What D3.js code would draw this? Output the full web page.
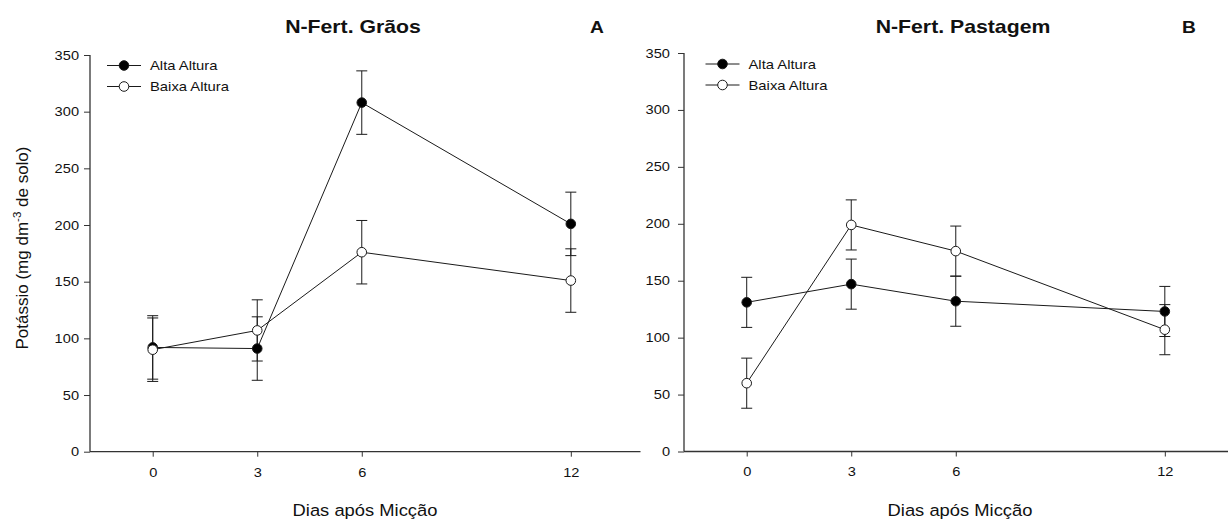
<!DOCTYPE html>
<html>
<head>
<meta charset="utf-8">
<script src="https://cdn.jsdelivr.net/npm/d3@7"></script>
<style>
  html, body { margin: 0; padding: 0; background: #fff; }
  svg { display: block; font-family: "Liberation Sans", Arial, sans-serif; }
</style>
</head>
<body>
<svg id="chart" width="1228" height="521"></svg>
<script>
// Sampling days after urination
const days = [0, 3, 6, 12];
const xTicks = [0, 3, 6, 12];
const yTicks = [0, 50, 100, 150, 200, 250, 300, 350];
const seriesNames = ["Alta Altura", "Baixa Altura"];

// Panel A: N-Fert. Grãos (potassium, mg dm-3 of soil)
const graosAlta = [92, 91, 308, 201];
const graosAltaErr = [28, 28, 28, 28];
const graosBaixa = [90, 107, 176, 151];
const graosBaixaErr = [28, 27, 28, 28];

// Panel B: N-Fert. Pastagem
const pastAlta = [131, 147, 132, 123];
const pastAltaErr = [22, 22, 22, 22];
const pastBaixa = [60, 199, 176, 107];
const pastBaixaErr = [22, 22, 22, 22];

const svg = d3.select("#chart");
const ink = "#1a1a1a";
const textInk = "#111";

// text drawn with a slight horizontal widening (the figure's lettering is wide-set)
function wideText(parent, x, y, str, size, sx, anchor, bold) {
  return parent.append("text")
    .attr("transform", `translate(${x},${y}) scale(${sx},1)`)
    .attr("text-anchor", anchor || "start")
    .style("font-size", size + "px")
    .style("font-weight", bold ? "bold" : "normal")
    .attr("fill", textInk)
    .text(str);
}

function drawPanel(cfg) {
  const g = svg.append("g");
  const x = d3.scaleLinear().domain([-1.8, 14]).range([cfg.left, cfg.left + 550.5]);
  const y = d3.scaleLinear().domain([0, 350]).range([cfg.bottom, cfg.top]);
  const tickSx = 1.17;

  // y axis
  const yAxis = g.append("g")
    .attr("transform", `translate(${cfg.left},0)`)
    .call(d3.axisLeft(y).tickValues(yTicks).tickSize(6).tickPadding(cfg.yPad));
  // x axis
  const xAxis = g.append("g")
    .attr("transform", `translate(0,${cfg.bottom})`)
    .call(d3.axisBottom(x).tickValues(xTicks).tickSize(5).tickPadding(11));
  [yAxis, xAxis].forEach(a => {
    a.select(".domain").attr("stroke", "#333").attr("stroke-width", 1.3);
    a.selectAll(".tick line").attr("stroke", "#333").attr("stroke-width", 1);
    a.selectAll(".tick text").attr("fill", textInk).style("font-size", "12.5px")
      .style("font-family", '"Liberation Sans", Arial, sans-serif')
      .attr("transform", `scale(${tickSx},1)`);
  });
  yAxis.selectAll(".tick text").attr("x", -(6 + cfg.yPad) / tickSx);
  // plain L-shaped frame without outer end ticks
  yAxis.select(".domain").attr("d", `M0,${cfg.top}V${cfg.bottom}`);
  xAxis.select(".domain").attr("d", `M${cfg.left},0H${cfg.left + 550.5}`);

  const series = [
    { name: seriesNames[0], vals: cfg.alta, err: cfg.altaErr, fill: "#000" },
    { name: seriesNames[1], vals: cfg.baixa, err: cfg.baixaErr, fill: "#fff" }
  ];

  const line = d3.line().x((d, i) => x(days[i])).y(d => y(d));

  series.forEach(s => {
    g.append("path").datum(s.vals)
      .attr("d", line).attr("fill", "none")
      .attr("stroke", ink).attr("stroke-width", 1);
  });

  // error bars (mean ± standard error)
  series.forEach(s => {
    const eb = g.append("g").attr("stroke", ink).attr("stroke-width", 1);
    s.vals.forEach((v, i) => {
      const cx = x(days[i]);
      eb.append("line").attr("x1", cx).attr("x2", cx)
        .attr("y1", y(v - s.err[i])).attr("y2", y(v + s.err[i]));
      [v - s.err[i], v + s.err[i]].forEach(e => {
        eb.append("line").attr("x1", cx - 5.5).attr("x2", cx + 5.5)
          .attr("y1", y(e)).attr("y2", y(e));
      });
    });
  });

  // markers
  series.forEach(s => {
    g.append("g").selectAll("circle").data(s.vals).join("circle")
      .attr("cx", (d, i) => x(days[i])).attr("cy", d => y(d))
      .attr("r", 4.8).attr("fill", s.fill)
      .attr("stroke", ink).attr("stroke-width", 1);
  });

  // legend
  series.forEach((s, k) => {
    const ly = cfg.legendY + k * 21;
    g.append("line").attr("x1", cfg.legendX).attr("x2", cfg.legendX + 34)
      .attr("y1", ly).attr("y2", ly).attr("stroke", ink).attr("stroke-width", 1);
    g.append("circle").attr("cx", cfg.legendX + 17).attr("cy", ly).attr("r", 4.8)
      .attr("fill", s.fill).attr("stroke", ink).attr("stroke-width", 1);
    wideText(g, cfg.legendX + 43, ly + 4.7, s.name, 13, 1.14);
  });

  // titles
  wideText(g, cfg.titleX, 33, cfg.title, 17.7, 1.2, "middle", true);
  wideText(g, cfg.letterX, 33, cfg.letter, 16, 1.2, "start", true);

  // x axis title
  wideText(g, cfg.xLabelX, 516, "Dias após Micção", 17, 1.08, "middle");
}

drawPanel({
  left: 90, top: 55, bottom: 451.7, yPad: 5,
  alta: graosAlta, altaErr: graosAltaErr, baixa: graosBaixa, baixaErr: graosBaixaErr,
  legendX: 107, legendY: 65.5, title: "N-Fert. Grãos", titleX: 353, letter: "A", letterX: 590,
  xLabelX: 365
});
drawPanel({
  left: 684, top: 53, bottom: 451.5, yPad: 8,
  alta: pastAlta, altaErr: pastAltaErr, baixa: pastBaixa, baixaErr: pastBaixaErr,
  legendX: 705.5, legendY: 64, title: "N-Fert. Pastagem", titleX: 963, letter: "B", letterX: 1182,
  xLabelX: 960
});

// shared y axis title
const yl = svg.append("text")
  .attr("transform", "translate(27.5,248) rotate(-90)")
  .attr("text-anchor", "middle")
  .style("font-size", "17px").attr("fill", textInk);
yl.append("tspan").text("Potássio (mg dm");
yl.append("tspan").attr("dy", -7).style("font-size", "11.5px").text("-3");
yl.append("tspan").attr("dy", 7).text(" de solo)");
</script>
</body>
</html>
